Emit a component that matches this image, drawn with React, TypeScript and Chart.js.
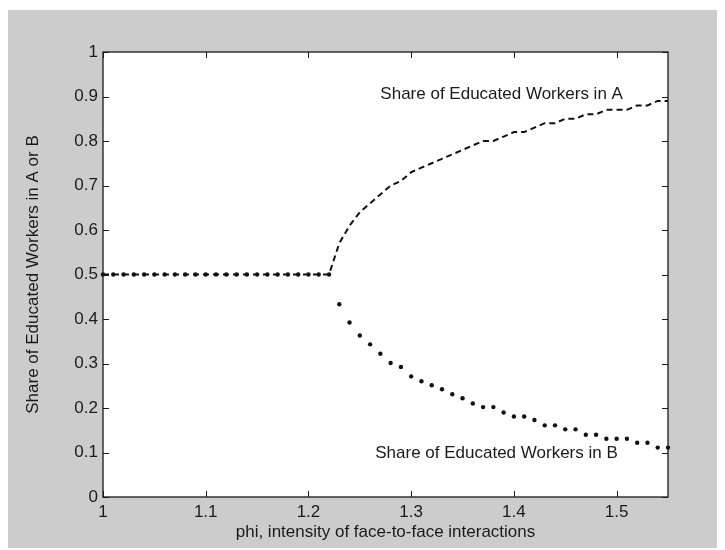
import React, { useEffect, useRef } from "react";
import { Chart, registerables } from "chart.js";

Chart.register(...registerables);

const PHI = [
  1.0, 1.01, 1.02, 1.03, 1.04, 1.05, 1.06, 1.07, 1.08, 1.09,
  1.1, 1.11, 1.12, 1.13, 1.14, 1.15, 1.16, 1.17, 1.18, 1.19,
  1.2, 1.21, 1.22, 1.23, 1.24, 1.25, 1.26, 1.27, 1.28, 1.29,
  1.3, 1.31, 1.32, 1.33, 1.34, 1.35, 1.36, 1.37, 1.38, 1.39,
  1.4, 1.41, 1.42, 1.43, 1.44, 1.45, 1.46, 1.47, 1.48, 1.49,
  1.5, 1.51, 1.52, 1.53, 1.54, 1.55,
];

const SHARE_A = [
  0.5, 0.5, 0.5, 0.5, 0.5, 0.5, 0.5, 0.5, 0.5, 0.5,
  0.5, 0.5, 0.5, 0.5, 0.5, 0.5, 0.5, 0.5, 0.5, 0.5,
  0.5, 0.5, 0.5, 0.57, 0.61, 0.64, 0.66, 0.68, 0.7, 0.71,
  0.73, 0.74, 0.75, 0.76, 0.77, 0.78, 0.79, 0.8, 0.8, 0.81,
  0.82, 0.82, 0.83, 0.84, 0.84, 0.85, 0.85, 0.86, 0.86, 0.87,
  0.87, 0.87, 0.88, 0.88, 0.89, 0.89,
];

const SHARE_B = [
  0.5, 0.5, 0.5, 0.5, 0.5, 0.5, 0.5, 0.5, 0.5, 0.5,
  0.5, 0.5, 0.5, 0.5, 0.5, 0.5, 0.5, 0.5, 0.5, 0.5,
  0.5, 0.5, 0.5, 0.433, 0.392, 0.363, 0.343, 0.322, 0.301, 0.292,
  0.271, 0.26, 0.251, 0.242, 0.231, 0.222, 0.21, 0.202, 0.202, 0.19,
  0.181, 0.181, 0.173, 0.161, 0.161, 0.152, 0.152, 0.14, 0.14, 0.131,
  0.131, 0.131, 0.122, 0.122, 0.111, 0.111,
];

const X_TICKS = [1, 1.1, 1.2, 1.3, 1.4, 1.5];
const Y_TICKS = [0, 0.1, 0.2, 0.3, 0.4, 0.5, 0.6, 0.7, 0.8, 0.9, 1];

const X_TITLE = "phi, intensity of face-to-face interactions";
const Y_TITLE = "Share of Educated Workers in A or B";

const NOTE_TEXT = ["Share of Educated Workers in A", "Share of Educated Workers in B"];
const NOTE_X = [1.27, 1.265];
const NOTE_Y = [0.905, 0.099];

const FONT = '"Liberation Sans", Arial, Helvetica, sans-serif';
const TEXT_COLOR = "#1a1a1a";
const FONT_SIZE = 17;

const fmt = (v: number | string) => String(Math.round(Number(v) * 100) / 100);

const framePlugin = {
  id: "matlabFrame",
  beforeDraw(chart: any) {
    const { ctx, chartArea } = chart;
    const { left, top, right, bottom } = chartArea;
    ctx.save();
    ctx.fillStyle = "#ffffff";
    ctx.fillRect(left, top, right - left, bottom - top);
    ctx.restore();
  },
  afterDraw(chart: any) {
    const { ctx, chartArea, scales } = chart;
    const { left, top, right, bottom } = chartArea;
    const x = scales.x;
    const y = scales.y;
    ctx.save();
    ctx.strokeStyle = "#1a1a1a";
    ctx.lineWidth = 1.3;
    ctx.strokeRect(left, top, right - left, bottom - top);
    const L = 6;
    ctx.beginPath();
    X_TICKS.forEach((v) => {
      const px = Math.round(x.getPixelForValue(v)) + 0.5;
      ctx.moveTo(px, bottom);
      ctx.lineTo(px, bottom - L);
      ctx.moveTo(px, top);
      ctx.lineTo(px, top + L);
    });
    Y_TICKS.forEach((v) => {
      const py = Math.round(y.getPixelForValue(v)) + 0.5;
      ctx.moveTo(left, py);
      ctx.lineTo(left + L, py);
      ctx.moveTo(right, py);
      ctx.lineTo(right - L, py);
    });
    ctx.lineWidth = 1;
    ctx.stroke();

    ctx.fillStyle = TEXT_COLOR;
    ctx.font = `${FONT_SIZE}px ${FONT}`;
    ctx.textAlign = "left";
    ctx.textBaseline = "middle";
    NOTE_TEXT.forEach((t, i) => {
      ctx.fillText(t, x.getPixelForValue(NOTE_X[i]), y.getPixelForValue(NOTE_Y[i]));
    });
    ctx.restore();
  },
};

export default function App() {
  const canvasRef = useRef<HTMLCanvasElement | null>(null);

  useEffect(() => {
    document.body.style.overflow = "hidden";
    const canvas = canvasRef.current;
    if (!canvas) return;
    const chart = new Chart(canvas, {
      type: "line",
      data: {
        datasets: [
          {
            label: "A",
            data: PHI.map((p, i) => ({ x: p, y: SHARE_A[i] })),
            borderColor: "#111111",
            borderWidth: 2,
            borderDash: [6, 4],
            pointRadius: 0,
            fill: false,
            tension: 0,
            clip: false as any,
          },
          {
            label: "B",
            data: PHI.map((p, i) => ({ x: p, y: SHARE_B[i] })),
            showLine: false,
            pointRadius: 2.2,
            pointBackgroundColor: "#111111",
            pointBorderColor: "#111111",
            pointBorderWidth: 0,
            clip: false as any,
          },
        ],
      },
      options: {
        animation: false,
        responsive: false,
        devicePixelRatio: 1,
        layout: { padding: { left: 0, top: 42, right: 57, bottom: 0 } },
        plugins: {
          legend: { display: false },
          tooltip: { enabled: false },
        },
        scales: {
          x: {
            type: "linear",
            min: 1,
            max: 1.55,
            afterBuildTicks: (s: any) => {
              s.ticks = X_TICKS.map((v) => ({ value: v }));
            },
            afterFit: (s: any) => {
              s.height = 53;
            },
            grid: { display: false, drawTicks: false },
            border: { display: false },
            ticks: {
              padding: 5,
              color: TEXT_COLOR,
              font: { family: FONT, size: FONT_SIZE },
              autoSkip: false,
              maxRotation: 0,
              callback: (v: any) => fmt(v),
            },
            title: {
              display: true,
              text: X_TITLE,
              color: TEXT_COLOR,
              font: { family: FONT, size: FONT_SIZE },
              padding: { top: 0, bottom: 7 },
            },
          },
          y: {
            type: "linear",
            min: 0,
            max: 1,
            afterBuildTicks: (s: any) => {
              s.ticks = Y_TICKS.map((v) => ({ value: v }));
            },
            afterFit: (s: any) => {
              s.width = 95;
            },
            grid: { display: false, drawTicks: false },
            border: { display: false },
            ticks: {
              padding: 5,
              color: TEXT_COLOR,
              font: { family: FONT, size: FONT_SIZE },
              autoSkip: false,
              callback: (v: any) => fmt(v),
            },
            title: {
              display: true,
              text: Y_TITLE,
              color: TEXT_COLOR,
              font: { family: FONT, size: FONT_SIZE },
              padding: { top: 15, bottom: 0 },
            },
          },
        },
      },
      plugins: [framePlugin],
    } as any);
    return () => chart.destroy();
  }, []);

  return (
    <div
      style={{
        position: "relative",
        top: 2,
        width: 717,
        height: 540,
        background: "#cccccc",
      }}
    >
      <canvas ref={canvasRef} width={717} height={540} style={{ display: "block" }} />
    </div>
  );
}
